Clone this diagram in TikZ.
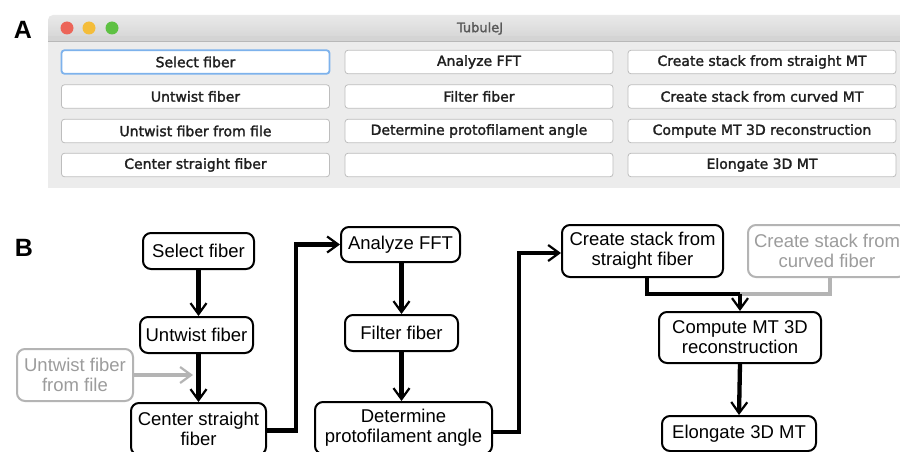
\documentclass[tikz,border=0pt]{standalone}
\usepackage{fontspec}
\setmainfont{Liberation Sans}
\newfontfamily\guifont[FakeBold=1.8]{DejaVu Sans}
\usetikzlibrary{arrows.meta,calc}
\definecolor{winbg}{HTML}{ECECEC}
\definecolor{tbtop}{HTML}{E9E9E9}
\definecolor{tbbot}{HTML}{D4D4D4}
\definecolor{btnline}{HTML}{BDBDBD}
\definecolor{focus}{HTML}{7DB2EC}
\definecolor{greytxt}{HTML}{9C9C9C}
\definecolor{greyline}{HTML}{B4B4B4}
\definecolor{tlred}{HTML}{EC6559}
\definecolor{tlyel}{HTML}{F4BD3A}
\definecolor{tlgrn}{HTML}{5EC143}
\tikzset{
  btn/.style={draw=btnline, line width=0.8pt, fill=white, rounded corners=3pt,
    minimum width=268, minimum height=23.5, inner sep=0pt,
    font=\guifont\fontsize{14}{16}\selectfont, text=black!88},
  flow/.style={draw=black, line width=2pt, rounded corners=8pt, align=center,
    inner sep=0pt, font=\fontsize{18.5}{20}\selectfont, text=black},
  gflow/.style={flow, draw=greyline, text=greytxt},
  conn/.style={line width=4.3pt, -{Straight Barb[length=11pt, width=16pt, line width=2.2pt]}},
  gconn/.style={conn, draw=greyline, line width=3.5pt},
  panel/.style={font=\bfseries\fontsize{25}{28}\selectfont}
}
\begin{document}
\begin{tikzpicture}[x=1pt,y=-1pt]
\useasboundingbox (0,0) rectangle (900,452);
\clip (0,0) rectangle (900,452);
\fill[white] (0,0) rectangle (900,452);

% ---------- Panel A ----------
\node[panel] (labA) at (23,30) {A};
\fill[winbg] (48,30) rectangle (910,188);
\shade[top color=tbtop, bottom color=tbbot, rounded corners=5pt] (48,41) rectangle (910,15);
\fill[tbbot] (48,36) rectangle (910,41);
\draw[black!28, line width=0.8pt] (48,41) -- (910,41);
\fill[tlred] (67,28) circle (6.5);
\fill[tlyel] (89,28) circle (6.5);
\fill[tlgrn] (112,28) circle (6.5);
\node[font=\guifont\fontsize{13}{15}\selectfont, text=black!65] (title) at (480,28.5) {TubuleJ};

\node[btn, draw=focus, line width=1.8pt] (b11) at (195.5,62) {Select fiber};
\node[btn] (b21) at (195.5,96.5) {Untwist fiber};
\node[btn] (b31) at (195.5,131) {Untwist fiber from file};
\node[btn] (b41) at (195.5,165) {Center straight fiber};
\node[btn] (b12) at (479,62) {Analyze FFT};
\node[btn] (b22) at (479,96.5) {Filter fiber};
\node[btn] (b32) at (479,131) {Determine protofilament angle};
\node[btn] (b42) at (479,165) {};
\node[btn] (b13) at (762,62) {Create stack from straight MT};
\node[btn] (b23) at (762,96.5) {Create stack from curved MT};
\node[btn] (b33) at (762,131) {Compute MT 3D reconstruction};
\node[btn] (b43) at (762,165) {Elongate 3D MT};

% ---------- Panel B ----------
\node[panel] (labB) at (24,248) {B};

\node[flow, minimum width=111, minimum height=36] (sel) at (198.5,251) {Select fiber};
\node[flow, minimum width=113, minimum height=36] (unt) at (196.5,335) {Untwist fiber};
\node[gflow, minimum width=116, minimum height=52] (file) at (75,375) {Untwist fiber\\from file};
\node[flow, minimum width=135, minimum height=52] (cen) at (198.5,429) {Center straight\\fiber};
\node[flow, minimum width=119, minimum height=35] (fft) at (400.5,244.5) {Analyze FFT};
\node[flow, minimum width=113, minimum height=36] (filt) at (401.5,333) {Filter fiber};
\node[flow, minimum width=177, minimum height=52] (det) at (403.5,428) {Determine\\protofilament angle};
\node[flow, minimum width=161, minimum height=52] (css) at (642.5,251) {Create stack from\\straight fiber};
\node[gflow, minimum width=158, minimum height=52] (csc) at (827,251) {Create stack from\\curved fiber};
\node[flow, minimum width=162, minimum height=51] (comp) at (740,337.5) {Compute MT 3D\\reconstruction};
\node[flow, minimum width=154, minimum height=35] (elo) at (739,433.5) {Elongate 3D MT};

\coordinate (fileend) at (193,375);
\coordinate (join) at (740,294);

\draw[conn] (sel) -- (sel |- unt.north);
\draw[conn] (sel |- unt.south) -- (sel |- cen.north);
\draw[gconn] (file.east) -- (fileend);
\draw[conn] ([yshift=-1.5pt]cen.east) -- ++(29,0) |- (fft.west);
\draw[conn] (filt |- fft.south) -- (filt.north);
\draw[conn] (filt.south) -- (filt |- det.north);
\draw[conn] ([yshift=-4pt]det.east) -- ++(26,0) |- ([yshift=-2pt]css.west);
\draw[gconn, -] ([xshift=3pt]csc.south) |- (join);
\draw[conn, -] ([xshift=4.5pt]css.south) |- (join);
\draw[conn] (join) -- (comp.north);
\draw[conn] (comp.south) -- (elo.north);
\end{tikzpicture}
\end{document}
